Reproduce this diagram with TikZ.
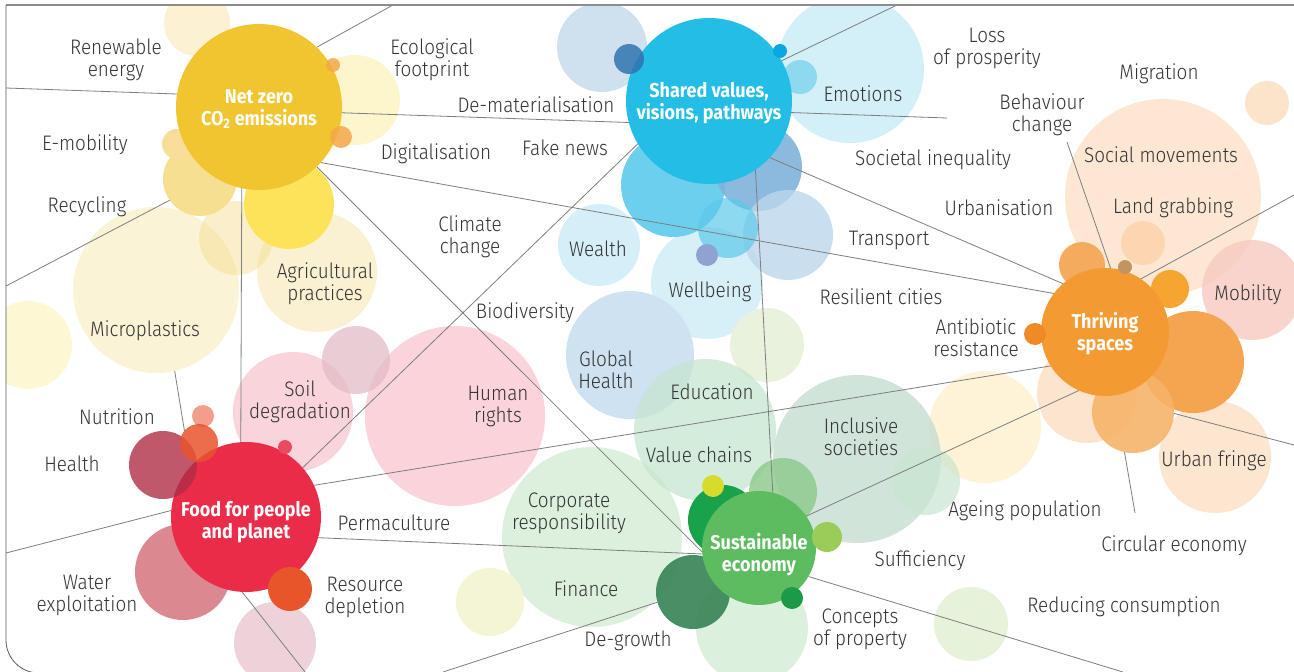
\documentclass[tikz,border=0pt]{standalone}
\usepackage{fontspec}
\IfFontExistsTF{Fira Sans Light}{\setmainfont{Fira Sans Light}[FakeStretch=0.9]}{\setmainfont{Fira Sans}[FakeStretch=0.9]}
\newfontfamily\mb{Fira Sans}[FakeStretch=0.9]
\pgfdeclarelayer{bg}
\pgfdeclarelayer{mid}
\pgfsetlayers{bg,mid,main}
\definecolor{labgray}{HTML}{333333}
\definecolor{linegray}{HTML}{7E7E7E}
\definecolor{framegray}{HTML}{8C8C8C}
\definecolor{nzcol}{HTML}{F0C530}
\definecolor{svcol}{HTML}{23BDE5}
\definecolor{tscol}{HTML}{F39B32}
\definecolor{ffcol}{HTML}{EA2C48}
\definecolor{secol}{HTML}{5DBB60}
\newcommand\bub[6]{\definecolor{col#1}{HTML}{#5}\node[bubble,fill=col#1,fill opacity=#6,minimum size=2*#4pt] (#1) at (#2,#3) {};}
\begin{document}
\begin{tikzpicture}[x=1pt,y=-1pt,
  bubble/.style={circle,draw=none,inner sep=0pt,outer sep=0pt},
  conn/.style={draw=linegray,line width=0.8pt},
  lab/.style={text=labgray,align=center,inner sep=0pt,yshift=-1pt,font=\fontsize{21}{22}\selectfont},
  mlab/.style={text=white,align=center,inner sep=0pt,font=\mb\bfseries\fontsize{20}{22}\selectfont}]
\useasboundingbox (0,0) rectangle (1294,672);
\begin{pgfonlayer}{bg}
\begin{scope}
\clip (6,300) [rounded corners=33pt] -- (6,673) -- (1294,673) [sharp corners] -- (1294,5) -- (6,5) -- cycle;
% pale yellow
\bub{c1}{197}{23}{33}{FDF1D3}{1}
\bub{c2}{355}{100}{45}{FDF5CC}{1}
\bub{c3}{156}{290}{83}{FBF3D6}{1}
\bub{c4}{28}{345}{44}{FDF7D3}{1}
\bub{c5}{317}{272}{60}{FAF1D2}{1}
% pale blue
\bub{c12}{602}{47}{45}{CFE1EF}{1}
\bub{c13}{850}{69}{74}{D3EFF8}{1}
\bub{c14}{599}{245}{41}{D5EFF8}{1}
\bub{c15}{707}{283}{56}{D7F0F8}{1}
\bub{c16}{630}{355}{64}{CFE2F1}{1}
% pale orange
\bub{c25}{1267}{103}{22}{FCE4CB}{1}
\bub{c26}{1163}{197}{98}{FDE7D3}{1}
\bub{c28}{1252}{290}{50}{F6C9C0}{0.8}
\bub{c29}{1087}{393}{50}{FCE4CF}{1}
\bub{c30}{1215}{457}{56}{FDE6D0}{1}
\bub{c31}{985}{427}{56}{FEF3D6}{1}
% pale red
\bub{c38}{455}{416}{90}{FAD3DB}{1}
\bub{c39}{293}{412}{60}{F9D4DB}{1}
\bub{c41}{275}{643}{41}{EDD3D9}{1}
% pale green
\bub{c48}{767}{345}{37}{E9F2DC}{1}
\bub{c52}{592}{537}{90}{DDF0DE}{1}
\bub{c53}{490}{602}{34}{F3F5D5}{1}
\bub{c54}{971}{624}{37}{E6F2D9}{1}
\bub{c58}{752}{628}{56}{DCF0DE}{1}
\bub{c49}{705}{430}{71}{C6E6D0}{0.75}
\bub{c50}{857}{459}{84}{C8DFD4}{0.85}
\bub{c51}{926}{481}{34}{C8E6CE}{0.7}
% medium circles
\bub{c6}{236}{238}{37}{F5DC8A}{0.45}
\bub{c7}{200}{179}{37}{F7DF92}{1}
\bub{c8}{177}{144}{15}{F8DE9A}{1}
\bub{c9}{289}{204}{45}{FDE35A}{1}
\bub{c17}{673}{185}{52}{6CCFEE}{1}
\bub{c18}{758}{167}{44}{7FB3DB}{0.9}
\bub{c19}{788}{235}{45}{BCD6EB}{0.8}
\bub{c20}{728}{228}{30}{5DC9EA}{0.7}
\bub{c21}{707}{255}{11}{8FA3D0}{1}
\bub{c22}{800}{77}{17}{8ED9F0}{1}
\bub{c27}{1143}{243}{22}{FBD6B0}{1}
\bub{c32}{1082}{265}{23}{F5AB5E}{1}
\bub{c33}{1193}{362}{51}{F5A54F}{1}
\bub{c34}{1133}{412}{41}{F6B46A}{0.9}
\bub{c35}{1170}{289}{19}{F6A530}{1}
\bub{c40}{356}{360}{34}{E3BCC5}{0.75}
\bub{c42}{183}{572}{48}{DC8890}{1}
\bub{c55}{723}{520}{35}{18A24A}{1}
\bub{c56}{783}{492}{34}{8FCB8F}{0.85}
\bub{c57}{693}{592}{37}{3A8558}{0.92}
\end{scope}
\end{pgfonlayer}
% main circles
\node[bubble,fill=nzcol,minimum size=166pt] (nz) at (259,107) {};
\node[bubble,fill=svcol,minimum size=166pt] (sv) at (709,101) {};
\node[bubble,fill=tscol,minimum size=128pt] (ts) at (1105,332) {};
\node[bubble,fill=ffcol,minimum size=150pt] (ff) at (246,517) {};
\node[bubble,fill=secol,minimum size=114pt] (se) at (759,548) {};
% dots on top
\bub{c10}{333}{65}{7}{F3A84A}{0.85}
\bub{c11}{341}{137}{11}{F3A84A}{0.85}
\bub{c23}{629}{59}{15}{2F74B0}{0.85}
\bub{c24}{780}{51}{7}{0AA7E0}{1}
\bub{c36}{1125}{267}{7}{C39360}{1}
\bub{c37}{1035}{334}{11}{F08A25}{1}
\bub{c43}{203}{416}{11}{F39E8A}{1}
\bub{c45}{163}{465}{34}{B02E47}{0.8}
\bub{c44}{199}{443}{19}{E8532B}{0.85}
\bub{c46}{285}{447}{7}{E94C62}{1}
\bub{c47}{290}{589}{22}{E9552B}{1}
\bub{c59}{713}{486}{11}{D5DC2B}{1}
\bub{c60}{827}{537}{15}{9BCB58}{1}
\bub{c61}{792}{598}{11}{1B9A48}{1}
% main labels
\node[mlab] (nzt) at (259,109) {Net zero\\CO\textsubscript{2} emissions};
\node[mlab] (svt) at (709,103) {Shared values,\\visions, pathways};
\node[mlab] (tst) at (1105,334) {Thriving\\spaces};
\node[mlab] (fft) at (246,522.5) {Food for people\\and planet};
\node[mlab] (set) at (759,555) {Sustainable\\economy};
% free ends
\coordinate (eRen) at (6,88);
\coordinate (eTop1) at (393,5);
\coordinate (eRec) at (6,286);
\coordinate (eEmo) at (947,118);
\coordinate (eTop2) at (897,5);
\coordinate (eBeh) at (1067,142);
\coordinate (eR1) at (1294,195);
\coordinate (eR2) at (1294,445);
\coordinate (eCirc) at (1135,513);
\coordinate (eWat) at (6,553);
\coordinate (eBot1) at (305,672);
\coordinate (eBot2) at (1123,672);
\coordinate (eBot3) at (443,672);
\begin{pgfonlayer}{mid}
\draw[conn] (nz.171) -- (eRen);
\draw[conn] (nz.46) -- (eTop1);
\draw[conn] (nz.-4) -- (sv.195);
\draw[conn] (nz.-42) -- (ts.143);
\draw[conn] (nz.-46) -- (se.184);
\draw[conn] (nz.-102) -- (ff.94);
\draw[conn] (c7.215) -- (eRec);
\draw[conn] (sv.-8) -- (eEmo);
\draw[conn] (sv.29) -- (eTop2);
\draw[conn] (sv.211) -- (ff.41);
\draw[conn] (sv.-56) -- (se.76);
\draw[conn] (sv.-43.5) -- (ts.131);
\draw[conn] (ts.85) -- (eBeh);
\draw[conn] (ts.56) -- (eR1);
\draw[conn] (ts.212) -- (ff.25);
\draw[conn] (ts.-114) -- (se.34);
\draw[conn] (c34.-2) -- (eR2);
\draw[conn] (c34.-102) -- (eCirc);
\draw[conn] (ff.-16) -- (se.186);
\draw[conn] (ff.175) -- (eWat);
\draw[conn] (ff.-93) -- (eBot1);
\draw[conn] (se.-30) -- (eBot2);
\draw[conn] (c57.196) -- (eBot3);
\draw[conn] (c3.-77) -- (c44.140);
\end{pgfonlayer}
% frame
\draw[draw=framegray,line width=2pt] (6,5) -- (1294,5);
\draw[draw=black!65,line width=0.8pt] (6,5) [rounded corners=33pt] -- (6,673) -- (1294,673);
% labels
\node[lab] (tRen) at (116,59) {Renewable\\energy};
\node[lab] (tEco) at (432,59) {Ecological\\footprint};
\node[lab] (tEmob) at (85,144) {E-mobility};
\node[lab] (tRec) at (87,206) {Recycling};
\node[lab] (tDig) at (436,153) {Digitalisation};
\node[lab] (tDem) at (536,104) {De-materialisation};
\node[lab] (tFake) at (565,147) {Fake news};
\node[lab] (tClim) at (470,236) {Climate\\change};
\node[lab] (tAgri) at (325,283) {Agricultural\\practices};
\node[lab] (tMicro) at (145,330) {Microplastics};
\node[lab] (tBio) at (525,312) {Biodiversity};
\node[lab] (tWealth) at (598,248) {Wealth};
\node[lab] (tWell) at (710,291) {Wellbeing};
\node[lab] (tEmo) at (863,93) {Emotions};
\node[lab] (tLoss) at (987,47) {Loss\\of prosperity};
\node[lab] (tMig) at (1159,73) {Migration};
\node[lab] (tBeh) at (1042,114) {Behaviour\\change};
\node[lab] (tSoc) at (1161,154) {Social movements};
\node[lab] (tIneq) at (933,159) {Societal inequality};
\node[lab] (tUrb) at (999,207) {Urbanisation};
\node[lab] (tLand) at (1173,207) {Land grabbing};
\node[lab] (tTrans) at (889,239) {Transport};
\node[lab] (tRes) at (881,296) {Resilient cities};
\node[lab] (tMob) at (1248,294) {Mobility};
\node[lab] (tAnti) at (976,337) {Antibiotic\\resistance};
\node[lab] (tGlob) at (606,369) {Global\\Health};
\node[lab] (tEdu) at (712,391) {Education};
\node[lab] (tHum) at (498,405) {Human\\rights};
\node[lab] (tSoil) at (300,401) {Soil\\degradation};
\node[lab] (tNut) at (117,416) {Nutrition};
\node[lab] (tHealth) at (72,463) {Health};
\node[lab] (tPerm) at (394,522) {Permaculture};
\node[lab] (tIncl) at (861,436) {Inclusive\\societies};
\node[lab] (tVal) at (699,454) {Value chains};
\node[lab] (tUrbf) at (1214,460) {Urban fringe};
\node[lab] (tAge) at (1025,510) {Ageing population};
\node[lab] (tCorp) at (569,512) {Corporate\\responsibility};
\node[lab] (tCirc) at (1174,545) {Circular economy};
\node[lab] (tSuff) at (920,560) {Sufficiency};
\node[lab] (tWat) at (87,594) {Water\\exploitation};
\node[lab] (tResd) at (365,596) {Resource\\depletion};
\node[lab] (tFin) at (586,588) {Finance};
\node[lab] (tDeg) at (628,640) {De-growth};
\node[lab] (tConc) at (860,628) {Concepts\\of property};
\node[lab] (tRed) at (1124,606) {Reducing consumption};
\end{tikzpicture}
\end{document}
